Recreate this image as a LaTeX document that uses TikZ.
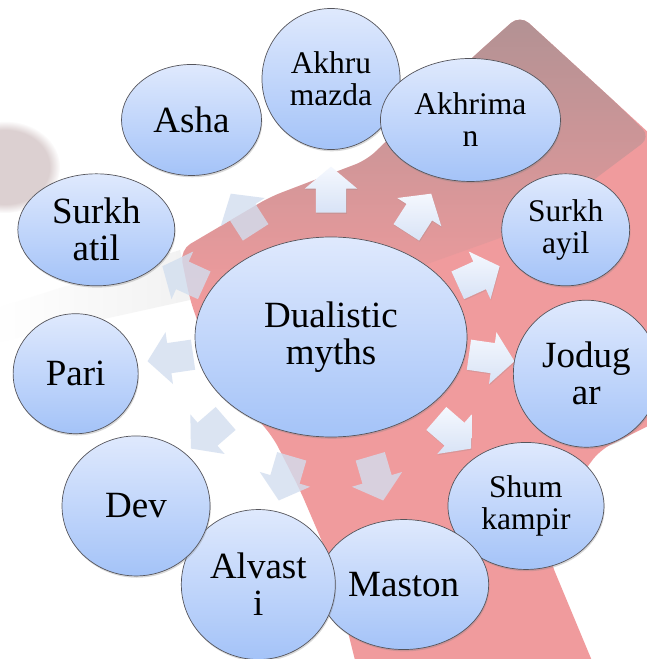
\documentclass[tikz,border=0pt]{standalone}
\usepackage{fontspec}
\setmainfont{Liberation Serif}
\usetikzlibrary{shapes.geometric,shapes.arrows,shadows,fadings}

\definecolor{mythtop}{RGB}{223,233,253}
\definecolor{mythbot}{RGB}{164,195,248}
\definecolor{mythline}{RGB}{85,85,92}
\definecolor{cover}{RGB}{240,155,157}
\definecolor{coverdark}{RGB}{178,146,148}
\definecolor{smudge}{RGB}{168,138,140}
\definecolor{arrowtop}{RGB}{245,248,254}
\definecolor{arrowbot}{RGB}{216,227,246}
\definecolor{arrowpale}{RGB}{210,222,239}

\begin{document}
\begin{tikzpicture}[
        myth/.style={ellipse, draw=mythline, line width=0.7pt, top color=mythtop, bottom color=mythbot,
            align=center, inner sep=0pt, drop shadow={opacity=0.3, shadow xshift=0.8pt, shadow yshift=-1.8pt}},
        big/.style={font=\fontsize{37}{37}\selectfont},
        small/.style={font=\fontsize{31.5}{32}\selectfont},
        blockarrow/.style={single arrow, single arrow head extend=11pt, single arrow tip angle=100,
            inner xsep=0pt, inner ysep=15pt, minimum height=46pt, top color=arrowtop, bottom color=arrowbot,
            drop shadow={opacity=0.2, shadow xshift=0.6pt, shadow yshift=-1.2pt}},
        paleblock/.style={single arrow, single arrow head extend=11pt, single arrow tip angle=100,
            inner xsep=0pt, inner ysep=15pt, minimum height=46pt, fill=arrowpale, fill opacity=0.8}
        ]
        % --- Ring sizes (pt) ---
        \def\rmyth{258pt}  % outer myths
        \def\dang{32.7273} % 360/11
        % arrow ring: 156pt x 141pt

        \useasboundingbox (-331pt,-322pt) rectangle (315pt,337pt);

        % Background
        \fill[white] (-331pt,-322pt) rectangle (315pt,337pt);
        \fill[smudge, opacity=0.4, path fading=circle with fuzzy edge 20 percent] (-326pt,170pt) ellipse (55pt and 46pt);
        \fill[black!5, path fading=west] (-331pt,30pt) -- (-151pt,87pt) -- (-141pt,37pt) -- (-331pt,-5pt) -- cycle;
        \fill[cover, rounded corners=12pt]
            (-151pt,87pt) -- (-61pt,140pt) -- (36pt,177pt) -- (142pt,280pt) -- (189pt,322pt)
            -- (282pt,237pt) -- (369pt,157pt) -- (369pt,-63pt) -- (269pt,-113pt) -- (224pt,-173pt)
            -- (219pt,-223pt) -- (269pt,-343pt) -- (29pt,-343pt) -- (-1pt,-223pt) -- (-31pt,-153pt)
            -- (-58pt,-100pt) -- (-116pt,-33pt) -- (-141pt,37pt) -- cycle;
        \fill[coverdark, path fading=south, rounded corners=12pt]
            (-151pt,87pt) -- (-61pt,140pt) -- (36pt,177pt) -- (142pt,280pt) -- (189pt,322pt)
            -- (282pt,237pt) -- (320pt,200pt) -- (200pt,110pt) -- (60pt,60pt) -- (-141pt,37pt) -- cycle;

        % Arrows
        \node[blockarrow, rotate=90] (ar1) at (90:156pt and 141pt) {};
        \node[blockarrow, rotate={90-\dang}] (ar2) at ({90-\dang}:156pt and 141pt) {};
        \node[blockarrow, rotate={90-2*\dang}] (ar3) at ({90-2*\dang}:156pt and 141pt) {};
        \node[blockarrow, rotate={90-3*\dang}] (ar4) at ({90-3*\dang}:156pt and 141pt) {};
        \node[blockarrow, rotate={90-4*\dang}] (ar5) at ({90-4*\dang}:156pt and 141pt) {};
        \node[paleblock, rotate={90-5*\dang}] (ar6) at ({90-5*\dang}:156pt and 141pt) {};
        \node[paleblock, rotate={90-6*\dang}] (ar7) at ({90-6*\dang}:156pt and 141pt) {};
        \node[paleblock, rotate={90-7*\dang}] (ar8) at ({90-7*\dang}:156pt and 141pt) {};
        \node[paleblock, rotate={90-8*\dang}] (ar9) at ({90-8*\dang}:156pt and 141pt) {};
        \node[paleblock, rotate={90-9*\dang}] (ar10) at ({90-9*\dang}:156pt and 141pt) {};
        \node[paleblock, rotate={90-10*\dang}] (ar11) at ({90-10*\dang}:156pt and 141pt) {};

        % Centre
        \node[myth, big, minimum width=272pt, minimum height=200pt] (dual) at (0,0) {Dualistic\\myths};

        % Outer ring, clockwise from the top
        \node[myth, small, minimum width=138pt, minimum height=141pt] (akhrumazda) at (90:\rmyth) {Akhru\\mazda};
        \node[myth, small, minimum width=180pt, minimum height=123pt] (akhriman) at ({90-\dang}:\rmyth) {Akhrima\\n};
        \node[myth, small, minimum width=128pt, minimum height=112pt] (surkhayil) at ({90-2*\dang}:\rmyth) {Surkh\\ayil};
        \node[myth, big, minimum width=146pt, minimum height=147pt] (jodugar) at ({90-3*\dang}:\rmyth) {Jodug\\ar};
        \node[myth, small, minimum width=156pt, minimum height=127pt] (shumkampir) at ({90-4*\dang}:\rmyth) {Shum\\kampir};
        \node[myth, big, minimum width=170pt, minimum height=130pt] (maston) at ({90-5*\dang}:\rmyth) {Maston};
        \node[myth, big, minimum width=154pt, minimum height=150pt] (alvasti) at ({90-6*\dang}:\rmyth) {Alvast\\i};
        \node[myth, big, minimum width=148pt, minimum height=140pt] (dev) at ({90-7*\dang}:\rmyth) {Dev};
        \node[myth, big, minimum width=125pt, minimum height=120pt] (pari) at ({90-8*\dang}:\rmyth) {Pari};
        \node[myth, big, minimum width=157pt, minimum height=112pt] (surkhatil) at ({90-9*\dang}:\rmyth) {Surkh\\atil};
        \node[myth, big, minimum width=140pt, minimum height=111pt] (asha) at ({90-10*\dang}:\rmyth) {Asha};

    \end{tikzpicture}
\end{document}
